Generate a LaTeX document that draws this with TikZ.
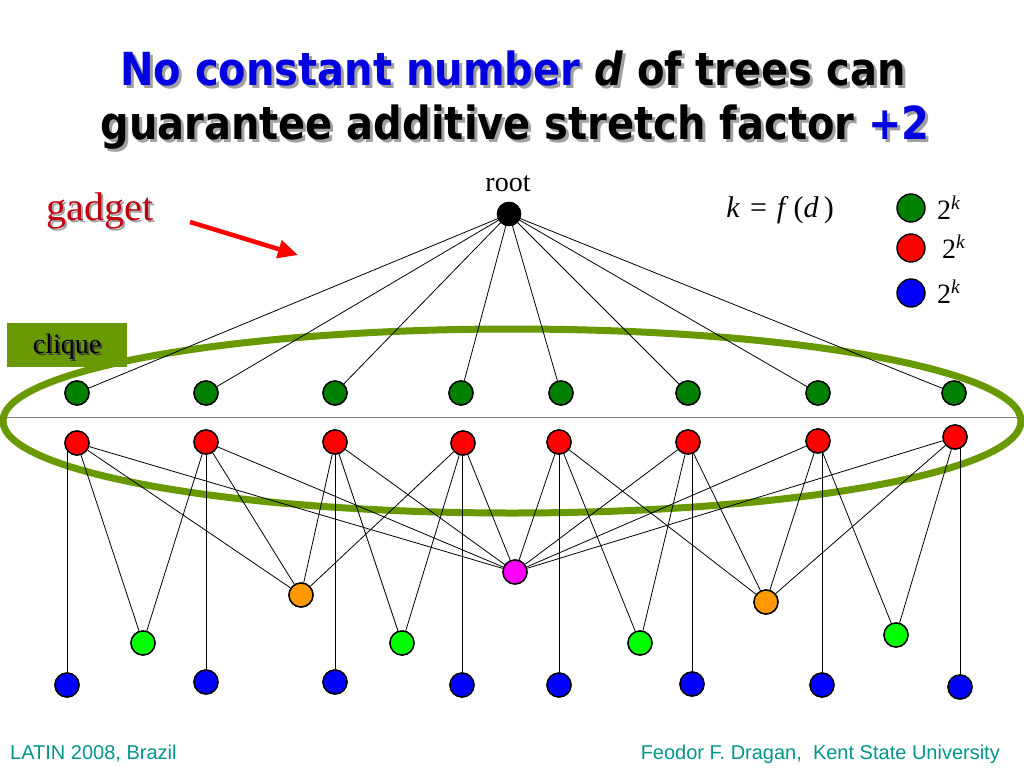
\documentclass[tikz,border=0pt]{standalone}
\usepackage{fontspec}
\setmainfont{Liberation Serif}
\newfontfamily\titlefont{DejaVu Sans}
\newfontfamily\footfont{Liberation Sans}
\usetikzlibrary{arrows.meta}
\definecolor{ttlblue}{RGB}{0,0,224}
\definecolor{shadowgray}{RGB}{160,160,160}
\definecolor{gadgetred}{RGB}{192,0,16}
\definecolor{cliquegreen}{RGB}{104,153,0}
\definecolor{dkgreen}{RGB}{0,128,0}
\definecolor{ltgreen}{RGB}{0,255,0}
\definecolor{orng}{RGB}{255,153,0}
\definecolor{mgnt}{RGB}{255,0,255}
\definecolor{footteal}{RGB}{0,150,140}
\tikzset{
  vtx/.style={circle, draw=black, line width=1.4pt, minimum size=24pt, inner sep=0pt},
  lgd/.style={circle, draw=black, line width=1.4pt, minimum size=28pt, inner sep=0pt},
  edge/.style={draw=black, line width=0.8pt},
  ttl/.style={anchor=base, inner sep=0pt, font=\titlefont\bfseries\fontsize{40}{48}\selectfont},
  foot/.style={inner sep=0pt, text=footteal, font=\footfont\fontsize{20}{24}\selectfont},
  lbl/.style={inner sep=0pt, font=\fontsize{28}{32}\selectfont}
}
\newcommand{\tstretch}[1]{\scalebox{1}[1.14]{#1}}
\begin{document}
\begin{tikzpicture}[x=1pt,y=-1pt]
\useasboundingbox[fill=white] (0,0) rectangle (1024,768);

% title (shadow then text)
\node[ttl, text=shadowgray] (t1s) at (516,88) {\tstretch{No constant number \textit{d} of trees can}};
\node[ttl] (t1) at (513,85) {\tstretch{\textcolor{ttlblue}{No constant number} \textit{d} of trees can}};
\node[ttl, text=shadowgray] (t2s) at (518,142) {\tstretch{guarantee additive stretch factor +2}};
\node[ttl] (t2) at (515,139) {\tstretch{guarantee additive stretch factor \textcolor{ttlblue}{+2}}};

% clique ellipse and separator line
\coordinate (hl) at (0,417);
\coordinate (hr) at (1022,417);
\draw[gray, line width=1pt] (hl) -- (hr);
\draw[cliquegreen, line width=7pt] (512,421) ellipse [x radius=509pt, y radius=92pt];

% nodes
\node[vtx, fill=black, minimum size=23pt] (root) at (509,214) {};
\node[lbl, anchor=base] (rootlbl) at (508,191) {root};

\foreach \i/\x in {1/77,2/206,3/335,4/461,5/561,6/688,7/818,8/954}
  \node[vtx, fill=dkgreen] (g\i) at (\x,393) {};
\foreach \i/\x/\y in {1/77/443,2/206/442,3/335/442,4/463/443,5/559/442,6/688/442,7/818/441,8/955/437}
  \node[vtx, fill=red] (r\i) at (\x,\y) {};
\foreach \i/\x/\y in {1/67/685,2/206/682,3/335/682,4/462/685,5/559/685,6/692/684,7/822/685,8/960/687}
  \node[vtx, fill=blue] (b\i) at (\x,\y) {};
\node[vtx, fill=ltgreen] (l1) at (143,643) {};
\node[vtx, fill=ltgreen] (l2) at (402,643) {};
\node[vtx, fill=ltgreen] (l3) at (640,643) {};
\node[vtx, fill=ltgreen] (l4) at (896,635) {};
\node[vtx, fill=orng] (o1) at (301,595) {};
\node[vtx, fill=orng] (o2) at (766,602) {};
\node[vtx, fill=mgnt] (m) at (515,572) {};

% edges
\foreach \i in {1,...,8} \draw[edge] (root) -- (g\i);
\foreach \i in {1,...,8} {
  \draw[edge] (b\i) -- (b\i |- r\i);
  \draw[edge] (r\i) -- (m);
}
\foreach \i in {1,...,4} \draw[edge] (r\i) -- (o1);
\foreach \i in {5,...,8} \draw[edge] (r\i) -- (o2);
\draw[edge] (r1) -- (l1); \draw[edge] (r2) -- (l1);
\draw[edge] (r3) -- (l2); \draw[edge] (r4) -- (l2);
\draw[edge] (r5) -- (l3); \draw[edge] (r6) -- (l3);
\draw[edge] (r7) -- (l4); \draw[edge] (r8) -- (l4);

% redraw nodes on top of edges
\node[vtx, fill=black, minimum size=23pt] at (root) {};
\foreach \i in {1,...,8} {
  \node[vtx, fill=dkgreen] at (g\i) {};
  \node[vtx, fill=red] at (r\i) {};
  \node[vtx, fill=blue] at (b\i) {};
}
\foreach \n in {l1,l2,l3,l4} \node[vtx, fill=ltgreen] at (\n) {};
\node[vtx, fill=orng] at (o1) {};
\node[vtx, fill=orng] at (o2) {};
\node[vtx, fill=mgnt] at (m) {};

% clique label box
\node[fill=cliquegreen, minimum width=120pt, minimum height=44pt, inner sep=0pt] (cbox) at (67,345) {};
\node[lbl, text=black!60!shadowgray] (cliqs) at (69,349) {clique};
\node[lbl] (cliq) at (67,347) {clique};

% gadget label and arrow
\node[inner sep=0pt, text=shadowgray, font=\fontsize{40}{44}\selectfont] (gads) at (102,213) {gadget};
\node[inner sep=0pt, text=gadgetred, font=\fontsize{40}{44}\selectfont] (gad) at (100,211) {gadget};
\coordinate (a1) at (190,222);
\coordinate (a2) at (298,255);
\draw[red, line width=4.5pt, -{Triangle[length=20pt,width=18pt]}] (a1) -- (a2);

% formula and legend
\node[lbl, anchor=base, font=\fontsize{30}{34}\selectfont] (kf) at (780,217) {\textit{k}\,\,=\,\,\textit{f}\,(\textit{d}\,)};
\node[lgd, fill=dkgreen] (lg1) at (911,208) {};
\node[lgd, fill=red] (lg2) at (911,248) {};
\node[lgd, fill=blue] (lg3) at (911,293) {};
\node[lbl, anchor=base west] (k1) at (937,219) {2\textsuperscript{\itshape k}};
\node[lbl, anchor=base west] (k2) at (942,258) {2\textsuperscript{\itshape k}};
\node[lbl, anchor=base west] (k3) at (937,303) {2\textsuperscript{\itshape k}};

% footer
\node[foot, anchor=base west] (fl) at (10,759) {LATIN 2008, Brazil};
\node[foot, anchor=base east] (fr) at (1000,759) {Feodor F. Dragan,\ \ Kent State University};
\end{tikzpicture}
\end{document}
